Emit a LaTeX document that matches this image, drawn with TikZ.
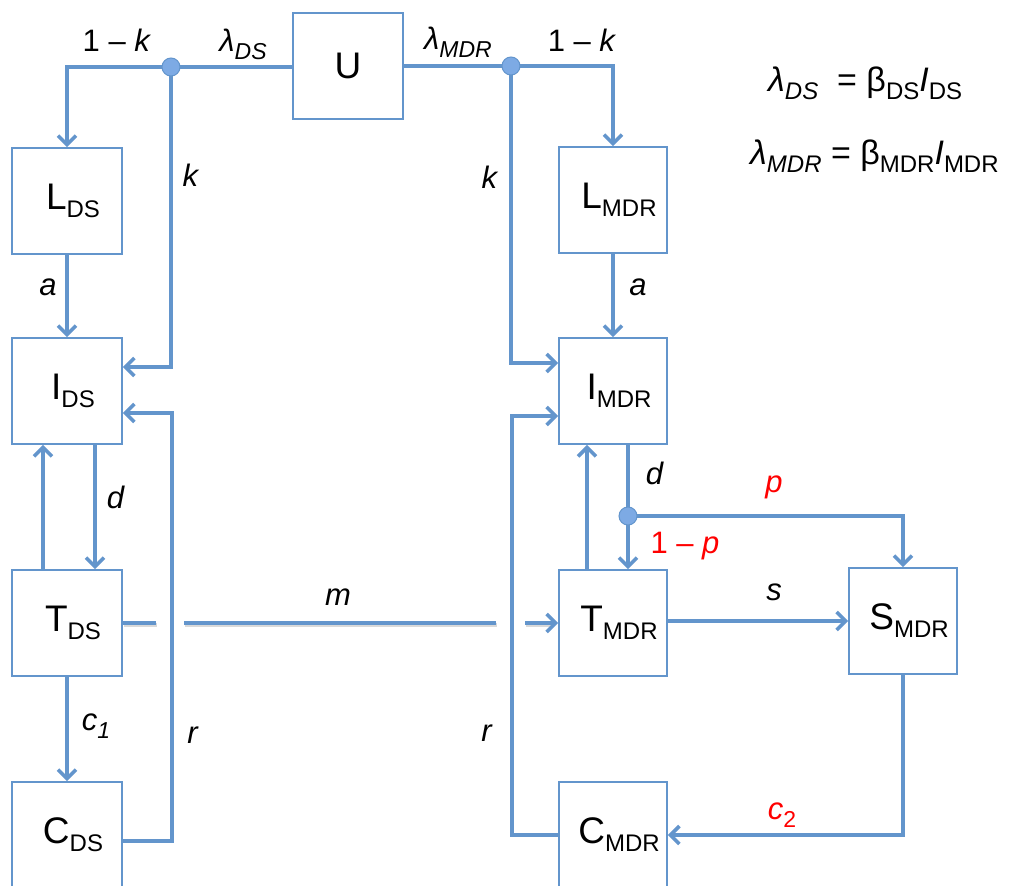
\documentclass[tikz,border=0pt]{standalone}
\usepackage{fontspec}
\setmainfont{Liberation Sans}
\usetikzlibrary{arrows.meta,calc}
\definecolor{flow}{RGB}{99,149,204}
\definecolor{dotfill}{RGB}{125,170,228}
% compartment label: large letter with lowered subscript, set a little right of centre
\newcommand\cmp[2]{\hspace*{12pt}{\fontsize{37}{37}\selectfont #1}{\fontsize{24}{24}\selectfont\raisebox{-8pt}{#2}}}
\newcommand\lbl{\fontsize{31}{31}\selectfont}
\newcommand\lsub[1]{{\fontsize{23}{23}\selectfont\raisebox{-8pt}{#1}}}
\newcommand\esub[1]{{\fontsize{24}{24}\selectfont\raisebox{-8pt}{#1}}}
\newcommand\eqf{\fontsize{34}{34}\selectfont}
\begin{document}
\begin{tikzpicture}[x=1pt,y=-1pt,
  comp/.style={draw=flow,line width=1.8pt,minimum width=110pt,minimum height=106pt,inner sep=0pt,fill=white},
  flowline/.style={draw=flow,line width=3.6pt},
  arr/.style={flowline,-{Straight Barb[length=9pt,width=18pt]}},
  jdot/.style={circle,fill=dotfill,draw=flow,line width=1pt,minimum size=18pt,inner sep=0pt},
  elab/.style={font=\lbl,inner sep=0pt},
  rlab/.style={elab,text=red}]
\clip (0,0) rectangle (1015,886);
\useasboundingbox (0,0) rectangle (1015,886);

% compartments
\node[comp] (U)    at (348,66)  {\fontsize{37}{37}\selectfont U};
\node[comp] (LDS)  at (67,201)  {\cmp{L}{DS}};
\node[comp] (IDS)  at (67,391)  {\cmp{I}{DS}};
\node[comp] (TDS)  at (67,623)  {\cmp{T}{DS}};
\node[comp] (CDS)  at (67,835)  {\cmp{C}{DS}};
\node[comp,minimum width=108pt] (LMDR) at (613,200) {\cmp{L}{MDR}};
\node[comp,minimum width=108pt] (IMDR) at (613,391) {\cmp{I}{MDR}};
\node[comp,minimum width=108pt] (TMDR) at (613,623) {\cmp{T}{MDR}};
\node[comp,minimum width=108pt] (SMDR) at (903,621) {\cmp{S}{MDR}};
\node[comp,minimum width=108pt] (CMDR) at (613,835) {\cmp{C}{MDR}};

% branching points
\coordinate (jL) at (171,67);
\coordinate (jR) at (511,66);
\coordinate (jP) at (628,516);
\coordinate (rLtop) at (172,413);
\coordinate (rRtop) at (512,416);

% infection flows from U
\draw[flowline] (U.west |- jL) -- (jL);
\draw[arr] (jL) -| (LDS.north);
\draw[arr] (jL) |- ([yshift=24pt]IDS.east);
\draw[flowline] (U.east |- jR) -- (jR);
\draw[arr] (jR) -| (LMDR.north);
\draw[arr] (jR) |- ([yshift=28pt]IMDR.west);

% drug-sensitive strain
\draw[arr] (LDS) -- (IDS);
\draw[arr] ([xshift=28pt]IDS.south) -- ([xshift=28pt]TDS.north);
\draw[arr] ([xshift=-24pt]TDS.north) -- ([xshift=-24pt]IDS.south);
\draw[arr] (TDS) -- (CDS);
\draw[arr] ([yshift=-6pt]CDS.east) -| (rLtop) -- (IDS.east |- rLtop);

% acquired resistance, crossing the relapse lines
\begin{scope}[transform canvas={shift={(1.2pt,-2pt)}}]
  \draw[line width=3.6pt,black!25,opacity=.6] (TDS.east) -- (156,623);
  \draw[line width=3.6pt,black!25,opacity=.6] (184,623) -- (496,623);
  \draw[line width=3.6pt,black!25,opacity=.6] (525,623) -- (550,623);
\end{scope}
\draw[flowline] (TDS.east) -- (156,623);
\draw[flowline] (184,623) -- (496,623);
\draw[arr] (525,623) -- (TMDR.west);

% multidrug-resistant strain
\draw[arr] (LMDR) -- (IMDR);
\draw[flowline] ([xshift=15pt]IMDR.south) -- (jP);
\draw[arr] (jP) -- (TMDR.north -| jP);
\draw[arr] (jP) -| (SMDR.north);
\draw[arr] ([xshift=-26pt]TMDR.north) -- ([xshift=-26pt]IMDR.south);
\draw[arr] (TMDR.east |- SMDR.west) -- (SMDR.west);
\draw[arr] (SMDR.south) |- (CMDR.east);
\draw[arr] (CMDR.west) -| (rRtop) -- (IMDR.west |- rRtop);

% junction dots
\node[jdot] (dL) at (jL) {};
\node[jdot] (dR) at (jR) {};
\node[jdot] (dP) at (jP) {};

% rate labels
\node[elab] (k1L) at (117,40) {1 – \textit{k}};
\node[elab] (lDS) at (243,44) {\textit{λ}\lsub{\textit{DS}}};
\node[elab] (lMDR) at (458,42) {\textit{λ}\lsub{\textit{MDR}}};
\node[elab] (k1R) at (582,40) {1 – \textit{k}};
\node[elab] (kL) at (191,175) {\textit{k}};
\node[elab] (kR) at (490,177) {\textit{k}};
\node[elab] (aL) at (48,287) {\textit{a}};
\node[elab] (aR) at (638,287) {\textit{a}};
\node[elab] (dLb) at (116,497) {\textit{d}};
\node[elab] (dRb) at (655,473) {\textit{d}};
\node[rlab] (pl) at (774,487) {\textit{p}};
\node[rlab] (ppl) at (685,546) {1 – \textit{p}};
\node[elab] (ml) at (338,597) {\textit{m}};
\node[elab] (sl) at (774,592) {\textit{s}};
\node[elab] (c1l) at (96,726) {\textit{c}\lsub{\textit{1}}};
\node[elab] (rL) at (193,735) {\textit{r}};
\node[elab] (rR) at (487,733) {\textit{r}};
\node[rlab] (c2l) at (782,815) {\textit{c}\lsub{2}};

% force of infection
\node[inner sep=0pt,font=\eqf,anchor=base west] (eq1) at (768,91)
  {\textit{λ}\esub{\textit{DS}}\ \ = β\esub{DS}\textit{I}\esub{DS}};
\node[inner sep=0pt,font=\eqf,anchor=base west] (eq2) at (750,164)
  {\textit{λ}\esub{\textit{MDR}} = β\esub{MDR}\textit{I}\esub{MDR}};
\end{tikzpicture}
\end{document}
